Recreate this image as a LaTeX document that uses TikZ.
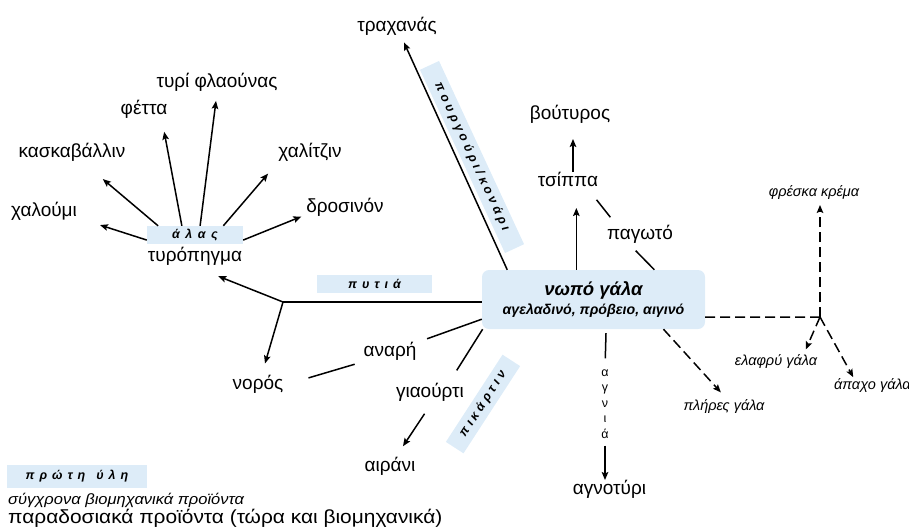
\documentclass[tikz,border=0pt]{standalone}
\usepackage{fontspec}
\setmainfont{Liberation Sans}
\newfontfamily\widefont[FakeStretch=1.1]{Liberation Sans}
\usetikzlibrary{arrows.meta,calc}
\definecolor{tagblue}{RGB}{221,236,248}
\newcommand\lsp{\hspace{3.6pt}}
\newcommand\lsq{\hspace{5.5pt}}
\newcommand\lsr{\hspace{5pt}}
\begin{document}
\begin{tikzpicture}[x=1pt,y=-1pt,
  lbl/.style={font=\fontsize{19}{22}\selectfont, inner sep=1pt, text height=13pt, text depth=4.5pt},
  sml/.style={font=\itshape\fontsize{14.5}{16}\selectfont, inner sep=1pt, text height=10pt, text depth=3.5pt},
  tag/.style={fill=tagblue, inner sep=0pt, font=\bfseries\itshape\fontsize{12.5}{14}\selectfont},
  arr/.style={line width=1.5pt, -{Stealth[length=8pt,width=6.5pt,inset=1.5pt]}},
  ln/.style={line width=1.5pt},
  darr/.style={arr, dash pattern=on 10pt off 5pt},
  dln/.style={ln, dash pattern=on 10pt off 5pt}]
\useasboundingbox (0,0) rectangle (909,531);

% nodes
\node[lbl] (trax) at (397,27) {τραχανάς};
\node[lbl] (tyri) at (217,83) {τυρί φλαούνας};
\node[lbl] (feta) at (144,110) {φέττα};
\node[lbl] (kask) at (72,153) {κασκαβάλλιν};
\node[lbl] (chal) at (310,153) {χαλίτζιν};
\node[lbl] (chalo) at (44,212) {χαλούμι};
\node[lbl] (dros) at (345,208) {δροσινόν};
\node[tag, minimum width=96pt, minimum height=18pt] (alas) at (195,235) {ά\lsq λ\lsq α\lsq ς};
\node[lbl] (typ) at (195,257) {τυρόπηγμα};
\node[tag, minimum width=115pt, minimum height=18pt] (pytia) at (374.5,284) {π\lsr υ\lsr τ\lsr ι\lsr ά};
\node[lbl] (noros) at (258,385) {νορός};
\node[lbl] (anari) at (390,352) {αναρή};
\node[lbl] (yiao) at (430,393) {γιαούρτι};
\node[lbl] (airani) at (390,467) {αιράνι};
\node[tag, rotate=57, minimum width=104pt, minimum height=21pt] (pik) at (483,404) {π\lsp ι\lsp κ\lsp ά\lsp ρ\lsp τ\lsp ι\lsp ν};
\node[tag, rotate=-65.1, minimum width=202pt, minimum height=21pt] (pour) at (472,157) {π\lsp ο\lsp υ\lsp ρ\lsp γ\lsp ο\lsp ύ\lsp ρ\lsp ι\lsp /\lsp κ\lsp ο\lsp ν\lsp ά\lsp ρ\lsp ι};
\node[fill=tagblue, rounded corners=7pt, minimum width=223pt, minimum height=59pt, align=center, inner sep=0pt,
  font=\bfseries\itshape\fontsize{14.2}{19}\selectfont] (main) at (593.5,299.5)
  {{\fontsize{18.5}{19}\selectfont νωπό γάλα}\\αγελαδινό, πρόβειο, αιγινό};
\node[lbl] (tsip) at (568,182) {τσίππα};
\node[lbl] (vout) at (570,115) {βούτυρος};
\node[lbl] (pag) at (640,235) {παγωτό};
\node[font=\fontsize{12.5}{15.5}\selectfont, align=center, inner sep=1pt] (agnia) at (605,404) {α\\γ\\ν\\ι\\ά};
\node[lbl] (agno) at (609.5,490) {αγνοτύρι};
\node[sml] (fresh) at (814,193) {φρέσκα κρέμα};
\node[sml] (elafry) at (776,362) {ελαφρύ γάλα};
\node[sml, anchor=west] (apaxo) at (833,386) {άπαχο γάλα};
\node[sml] (plires) at (724,407) {πλήρες γάλα};
\coordinate (j1) at (283,302);
\coordinate (j2) at (820,317);

% legend
\node[tag, minimum width=140pt, minimum height=23pt] (proti) at (77,476.5) {π\lsr ρ\lsr ώ\lsr τ\lsr η\hspace{11pt}ύ\lsr λ\lsr η};
\node[anchor=west, inner sep=0pt, font=\widefont\itshape\fontsize{15}{17}\selectfont] (leg1) at (8,500) {σύγχρονα βιομηχανικά προϊόντα};
\node[anchor=west, inner sep=0pt, font=\widefont\fontsize{19}{21}\selectfont] (leg2) at (8,518) {παραδοσιακά προϊόντα (τώρα και βιομηχανικά)};

% fan from salt
\draw[arr, shorten >=23pt] (alas.186) -- (chalo.350);
\draw[arr, shorten >=25pt] (alas.166) -- (kask);
\draw[arr, shorten >=12pt] (alas.145) -- (feta.-29);
\draw[arr, shorten >=8pt] (alas.61) -- (tyri.south);
\draw[arr, shorten >=14pt] (alas.18) -- (chal.south west);
\draw[arr, shorten >=4pt] (alas.-6) -- (dros.190);

% rennet branch
\draw[ln] (main.west |- j1) -- (j1);
\draw[arr, shorten >=25pt] (j1) -- (typ.south);
\draw[arr, shorten >=12pt] (j1) -- (noros.70);
\draw[ln, shorten >=10pt] (main.190) -- (anari);
\draw[ln, shorten <=8pt, shorten >=25pt] (anari.south west) -- (noros.east);
\draw[ln, shorten >=15pt] (main.195.6) -- (yiao.28);
\draw[arr, shorten <=13pt, shorten >=13pt] (yiao.-80) -- (airani.60);

% upper branches
\draw[arr, shorten >=6pt] (main.161.6) -- (trax);
\draw[arr, shorten >=16pt] (main.120.7) -- (main.120.7 |- tsip.south);
\draw[arr, shorten >=14pt] ([xshift=5pt]tsip.north) -- ([xshift=3pt]vout.south);
\draw[ln, shorten >=8pt] (main.26) -- (pag.225);
\draw[ln, shorten <=10pt, shorten >=10pt] (pag.157) -- (tsip.-24);

% agnia
\draw[ln, shorten <=4pt, shorten >=10pt] (main.-67) -- (agnia.north);
\draw[arr, shorten <=6pt] (agnia.south) -- (agnia.south |- agno.north);

% dashed
\draw[dln] (main.-9) -- (j2);
\draw[darr, shorten >=4pt] (j2) -- (j2 |- fresh.south);
\draw[darr, shorten >=5pt] (j2) -- (elafry.16);
\draw[darr, shorten >=1pt] (j2) -- (apaxo.157);
\draw[darr, shorten >=9pt] (main.-23.5) -- (plires.70);
\end{tikzpicture}
\end{document}
